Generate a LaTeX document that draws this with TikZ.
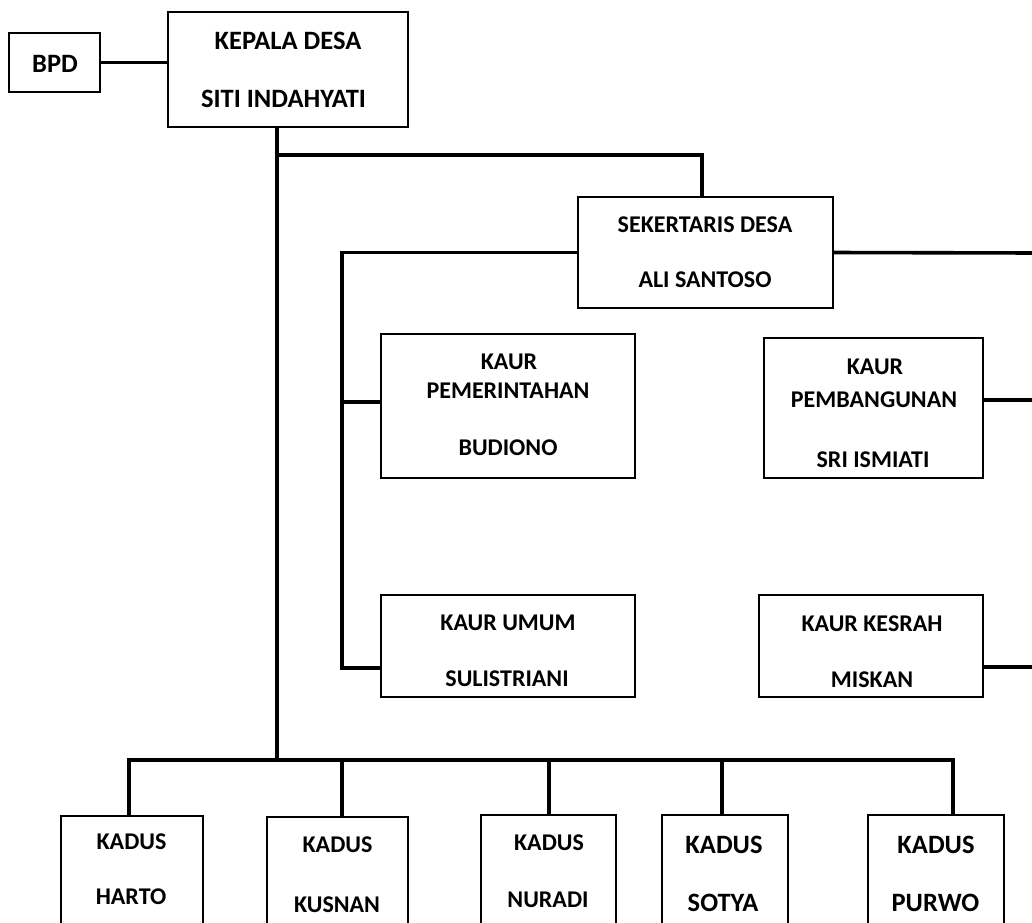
\documentclass[tikz,border=0pt]{standalone}
\usepackage{fontspec}
\setmainfont{Carlito}
\begin{document}
\begin{tikzpicture}[x=1pt,y=-1pt,
  box/.style={draw, line width=1.6pt, inner sep=0pt, anchor=center},
  conn/.style={line width=3.6pt},
  t/.style={anchor=base, inner sep=0pt, font=\bfseries\fontsize{24}{28}\selectfont},
  tb/.style={anchor=base, inner sep=0pt, font=\bfseries\fontsize{26.5}{30}\selectfont}]
\useasboundingbox (0,0) rectangle (1032,922);
\clip (0,0) rectangle (1032,922);
\fill[white] (0,0) rectangle (1032,922);
% boxes
\node[box, minimum width=91pt, minimum height=59pt] (bpd) at (54.5,62.5) {};
\node[box, minimum width=240pt, minimum height=115pt] (kd) at (288,69.5) {};
\node[box, minimum width=255pt, minimum height=111pt] (sd) at (705.5,252.5) {};
\node[box, minimum width=254pt, minimum height=144pt] (kpem) at (508,406) {};
\node[box, minimum width=219pt, minimum height=140pt] (kpemb) at (873.5,408) {};
\node[box, minimum width=254pt, minimum height=102pt] (kumum) at (508,646) {};
\node[box, minimum width=224pt, minimum height=102pt] (kkes) at (871,646) {};
\node[box, minimum width=142pt, minimum height=184pt] (harto) at (132,908) {};
\node[box, minimum width=141pt, minimum height=182pt] (kusnan) at (337.5,908) {};
\node[box, minimum width=135pt, minimum height=186pt] (nuradi) at (548.5,908) {};
\node[box, minimum width=126pt, minimum height=186pt] (sotya) at (725,908) {};
\node[box, minimum width=136pt, minimum height=186pt] (purwo) at (936,908) {};
% texts
\node[tb] (tbpd) at (55,72) {BPD};
\node[tb] (tkd1) at (288,49) {KEPALA DESA};
\node[tb] (tkd2) at (283.5,107) {SITI INDAHYATI};
\node[t] (tsd1) at (705,232) {SEKERTARIS DESA};
\node[t] (tsd2) at (705,287) {ALI SANTOSO};
\node[t] (tkp1) at (509,369) {KAUR};
\node[t] (tkp2) at (508,398) {PEMERINTAHAN};
\node[t] (tkp3) at (508,455) {BUDIONO};
\node[t] (tkb1) at (875,374) {KAUR};
\node[t] (tkb2) at (874,407) {PEMBANGUNAN};
\node[t] (tkb3) at (873,467) {SRI ISMIATI};
\node[t] (tku1) at (508,630) {KAUR UMUM};
\node[t] (tku2) at (507,686) {SULISTRIANI};
\node[t] (tkk1) at (872,631) {KAUR KESRAH};
\node[t] (tkk2) at (872,687) {MISKAN};
\node[t] (th1) at (131.5,849) {KADUS};
\node[t] (th2) at (131,904) {HARTO};
\node[t] (tk1) at (337.5,852) {KADUS};
\node[t] (tk2) at (337,912) {KUSNAN};
\node[t] (tn1) at (549,850) {KADUS};
\node[t] (tn2) at (548,907) {NURADI};
\node[tb] (ts1) at (724,853) {KADUS};
\node[tb] (ts2) at (723,911) {SOTYA};
\node[tb] (tp1) at (936,853) {KADUS};
\node[tb] (tp2) at (935.5,911) {PURWO};
% junction coordinates
\coordinate (j1) at (277,155);
\coordinate (j2) at (702,155);
\coordinate (j4) at (342,668);
\coordinate (j5) at (342,402);
\coordinate (e1) at (1040,253);
\coordinate (e2) at (1040,400);
\coordinate (e3) at (1040,667);
\coordinate (busL) at (129,760);
\coordinate (busR) at (953,760);
\coordinate (d2) at (342,760);
\coordinate (d3) at (549,760);
\coordinate (d4) at (722,760);
% connectors
\draw[conn] (bpd.east) -- (bpd.east -| kd.west);
\draw[conn] (j1 |- kd.south) -- (j1 |- busL);
\draw[conn] (j1) -- (j2) -- (j2 |- sd.north);
\draw[conn] (sd.west) -| (j4) -- (j4 -| kumum.west);
\draw[conn] (j5) -- (j5 -| kpem.west);
\draw[conn] (sd.east) -- (e1);
\draw[conn] (e2 -| kpemb.east) -- (e2);
\draw[conn] (e3 -| kkes.east) -- (e3);
\draw[conn] (busL |- harto.north) -- (busL) -- (busR) -- (busR |- purwo.north);
\draw[conn] (d2) -- (d2 |- kusnan.north);
\draw[conn] (d3) -- (d3 |- nuradi.north);
\draw[conn] (d4) -- (d4 |- sotya.north);
\end{tikzpicture}
\end{document}
